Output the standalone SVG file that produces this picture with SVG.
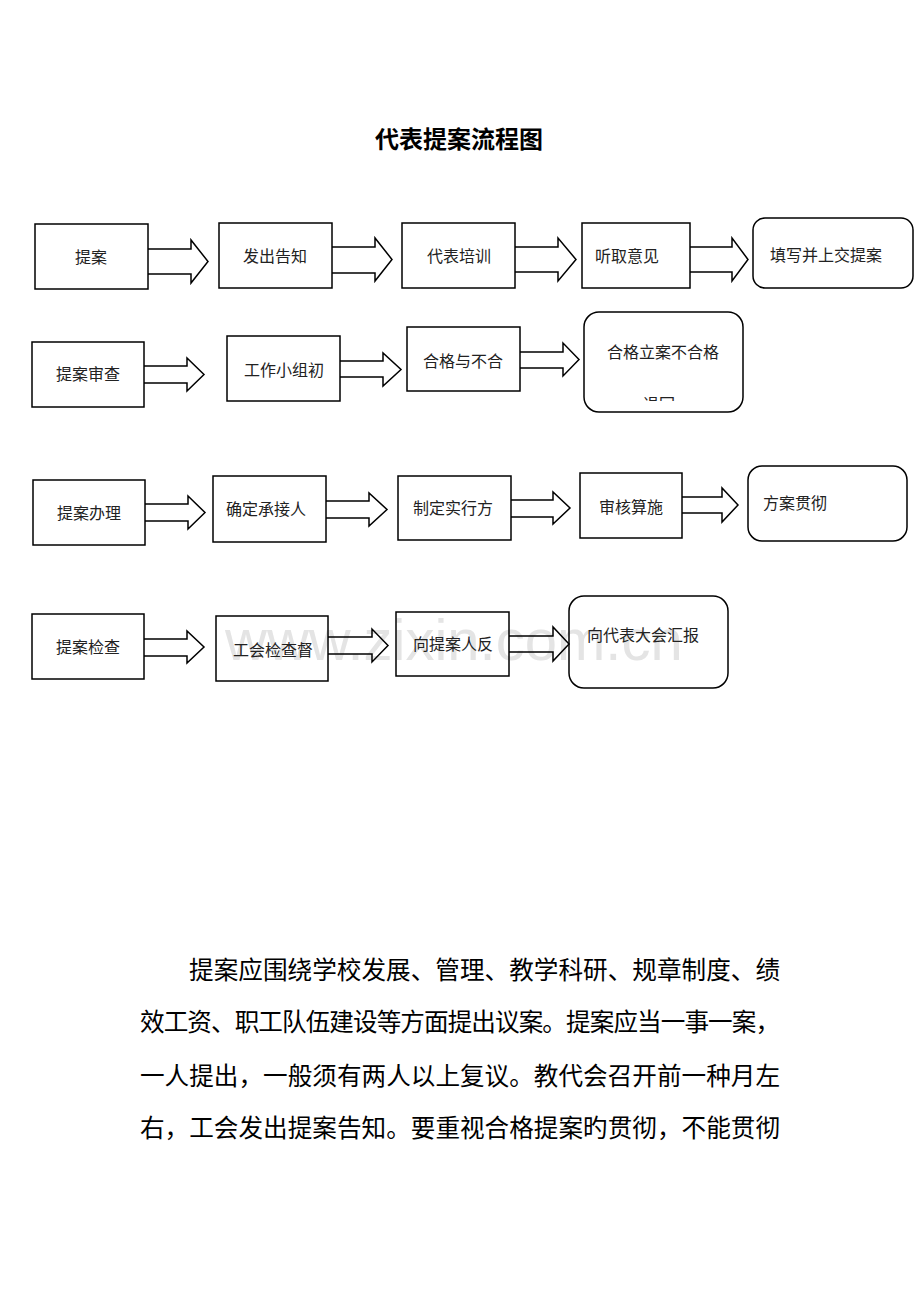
<svg xmlns="http://www.w3.org/2000/svg" width="920" height="1302" viewBox="0 0 920 1302">
<style>
.box{fill:none;stroke:#000;stroke-width:1.5}
.arr{fill:none;stroke:#000;stroke-width:1.5;stroke-linejoin:miter}
.t{font-family:"Noto Sans CJK SC","Noto Sans",sans-serif;font-size:16px;fill:#222}
.title{font-family:"Noto Sans CJK SC","Noto Sans",sans-serif;font-size:24px;font-weight:bold;fill:#000}
.p{font-family:"Noto Sans CJK SC","Noto Sans",sans-serif;font-size:24.6px;fill:#000}
.wm{font-family:"Liberation Sans",Arial,sans-serif;font-size:58px;fill:#e4e4e4}
</style>
<defs>
<clipPath id="clip9"><rect x="584" y="312" width="159" height="89"/></clipPath>
</defs>
<rect width="920" height="1302" fill="#fff"/>
<text class="wm" x="225" y="660">www.zixin.com.cn</text>
<text class="title" x="459" y="148" text-anchor="middle">代表提案流程图</text>

<g id="n1"><rect class="box" x="35" y="224" width="113" height="65"/><text class="t" x="75" y="263">提案</text></g>
<g id="n2"><rect class="box" x="219" y="223" width="113" height="65"/><text class="t" x="243" y="262">发出告知</text></g>
<g id="n3"><rect class="box" x="402" y="223" width="113" height="65"/><text class="t" x="427" y="262">代表培训</text></g>
<g id="n4"><rect class="box" x="582" y="223" width="108" height="65"/><text class="t" x="595" y="262">听取意见</text></g>
<g id="n5"><rect class="box" x="753" y="218" width="160" height="70" rx="12"/><text class="t" x="770" y="261">填写并上交提案</text></g>

<g id="n6"><rect class="box" x="32" y="342" width="112" height="65"/><text class="t" x="56" y="380">提案审查</text></g>
<g id="n7"><rect class="box" x="227" y="336" width="113" height="65"/><text class="t" x="244" y="376">工作小组初</text></g>
<g id="n8"><rect class="box" x="407" y="327" width="113" height="64"/><text class="t" x="423" y="367">合格与不合</text></g>
<g id="n9"><rect class="box" x="584" y="312" width="159" height="100" rx="15"/><text class="t" x="607" y="358">合格立案不合格</text><text class="t" x="643" y="410" clip-path="url(#clip9)">退回</text></g>

<g id="n10"><rect class="box" x="33" y="480" width="112" height="65"/><text class="t" x="57" y="519">提案办理</text></g>
<g id="n11"><rect class="box" x="213" y="476" width="113" height="66"/><text class="t" x="226" y="515">确定承接人</text></g>
<g id="n12"><rect class="box" x="398" y="476" width="113" height="64"/><text class="t" x="413" y="514">制定实行方</text></g>
<g id="n13"><rect class="box" x="580" y="473" width="102" height="65"/><text class="t" x="599" y="513">审核算施</text></g>
<g id="n14"><rect class="box" x="748" y="466" width="159" height="75" rx="14"/><text class="t" x="763" y="509">方案贯彻</text></g>

<g id="n15"><rect class="box" x="32" y="614" width="112" height="65"/><text class="t" x="56" y="653">提案检查</text></g>
<g id="n16"><rect class="box" x="216" y="616" width="112" height="65"/><text class="t" x="233" y="656">工会检查督</text></g>
<g id="n17"><rect class="box" x="396" y="612" width="113" height="64"/><text class="t" x="413" y="650">向提案人反</text></g>
<g id="n18"><rect class="box" x="569" y="596" width="159" height="92" rx="15"/><text class="t" x="587" y="641">向代表大会汇报</text></g>

<g id="connectors">
<polyline class="arr" points="148,249 191,249 191,240 208,261.5 191,283 191,274 148,274"/>
<polyline class="arr" points="332,247 375,247 375,238 392,259.5 375,281 375,273 332,273"/>
<polyline class="arr" points="515,247 558,247 558,238 576,259.5 558,281 558,272 515,272"/>
<polyline class="arr" points="690,247 732,247 732,238 748,259.5 732,281 732,272 690,272"/>

<polyline class="arr" points="144,366 187,366 187,358 204,374.5 187,391 187,383 144,383"/>
<polyline class="arr" points="340,361 383,361 383,353 401,369.5 383,386 383,377 340,377"/>
<polyline class="arr" points="520,352 563,352 563,343 579,359.5 563,376 563,368 520,368"/>

<polyline class="arr" points="145,504 188,504 188,496 205,512.5 188,529 188,521 145,521"/>
<polyline class="arr" points="326,501 369,501 369,493 387,509.5 369,526 369,518 326,518"/>
<polyline class="arr" points="511,500 553,500 553,492 570,508 553,524 553,517 511,517"/>
<polyline class="arr" points="682,497 722,497 722,488 738,505 722,522 722,513 682,513"/>

<polyline class="arr" points="144,639 187,639 187,631 204,647 187,663 187,656 144,656"/>
<polyline class="arr" points="328,637 372,637 372,629 388,645.5 372,662 372,654 328,654"/>
<polyline class="arr" points="509,636 553,636 553,627 569,644 553,661 553,652 509,652"/>
</g>

<g id="paragraph">
<text class="p" x="189" y="979" textLength="591" lengthAdjust="spacing">提案应围绕学校发展、管理、教学科研、规章制度、绩</text>
<text class="p" x="140" y="1031" textLength="640" lengthAdjust="spacing">效工资、职工队伍建设等方面提出议案。提案应当一事一案，</text>
<text class="p" x="140" y="1085" textLength="640" lengthAdjust="spacing">一人提出，一般须有两人以上复议。教代会召开前一种月左</text>
<text class="p" x="140" y="1137" textLength="640" lengthAdjust="spacing">右，工会发出提案告知。要重视合格提案旳贯彻，不能贯彻</text>
</g>
</svg>
